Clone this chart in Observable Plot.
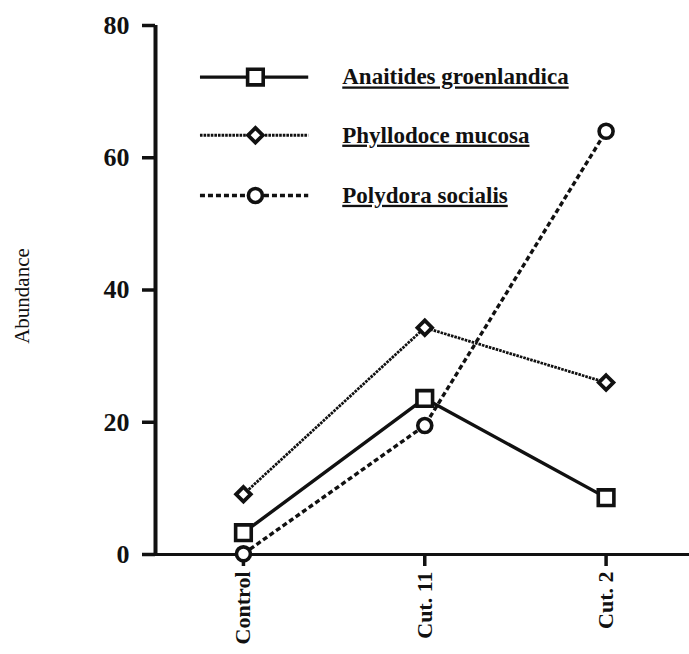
<!DOCTYPE html>
<html>
<head>
<meta charset="utf-8">
<script src="https://cdn.jsdelivr.net/npm/d3@7"></script>
<script src="https://cdn.jsdelivr.net/npm/@observablehq/plot@0.6"></script>
<style>
  html, body { margin: 0; padding: 0; background: #fff; }
  #chart svg { display: block; }
</style>
</head>
<body>
<div id="chart"></div>
<script>
// ---- data ----
const categories = ["Control", "Cut. 11", "Cut. 2"];
const species = ["Anaitides groenlandica", "Phyllodoce mucosa", "Polydora socialis"];
const anaitides = [3.3, 23.6, 8.6];
const phyllodoce = [9.1, 34.3, 26.0];
const polydora = [0.1, 19.5, 64.0];
const yTicks = [0, 20, 40, 60, 80];

// ---- styles per series ----
const seriesStyle = [
  {values: anaitides, symbol: "square", r: 8.8, stroke: 3.6, dash: null, sw: 3.4},
  {values: phyllodoce, symbol: "diamond2", r: 6.6, stroke: 3.8, dash: "2.6,1", sw: 2.8},
  {values: polydora, symbol: "circle", r: 7, stroke: 3.6, dash: "5,3", sw: 3.4}
];

const rows = [];
species.forEach((s, k) => categories.forEach((c, i) => rows.push({species: s, k, i, v: seriesStyle[k].values[i]})));

// legend layout (data units)
const legendY = [72.2, 63.4, 54.3];
const legendLineX = [-0.237, 0.36];
const legendMarkX = 0.066;
const legendTextX = 0.545;

const ink = "#111";
const marks = [];

// axes lines
marks.push(Plot.ruleX([-0.485], {y1: 0, y2: 80, stroke: ink, strokeWidth: 4}));
marks.push(Plot.ruleY([0], {x1: -0.485, x2: 2.46, stroke: ink, strokeWidth: 3}));

marks.push(Plot.axisY({ticks: yTicks, tickSize: 13, tickPadding: 13, strokeWidth: 3.5, stroke: ink,
  fontSize: 26, fontWeight: "bold", fill: ink, label: null}));
marks.push(Plot.axisX({ticks: [0, 1, 2], tickFormat: i => categories[i], tickRotate: -90, tickSize: 12,
  tickPadding: 5, strokeWidth: 3.5, stroke: ink, fontSize: 22, fontWeight: "bold", fill: ink, label: null}));

marks.push(Plot.text(["Abundance"], {frameAnchor: "left", textAnchor: "middle", dx: -133, dy: 6, rotate: -90,
  fontSize: 21, fill: ink}));

// series
seriesStyle.forEach((st, k) => {
  const d = rows.filter(r => r.k === k);
  marks.push(Plot.line(d, {x: "i", y: "v", stroke: ink, strokeWidth: st.sw,
    strokeDasharray: st.dash, strokeLinecap: "butt"}));
});
seriesStyle.forEach((st, k) => {
  const d = rows.filter(r => r.k === k);
  marks.push(Plot.dot(d, {x: "i", y: "v", symbol: () => st.symbol, r: st.r, fill: "white",
    stroke: ink, strokeWidth: st.stroke}));
});

// legend
seriesStyle.forEach((st, k) => {
  marks.push(Plot.ruleY([legendY[k]], {x1: legendLineX[0], x2: legendLineX[1], stroke: ink,
    strokeWidth: st.sw, strokeDasharray: st.dash}));
  marks.push(Plot.dot([legendY[k]], {x: () => legendMarkX, y: d => d, symbol: () => st.symbol, r: st.r,
    fill: "white", stroke: ink, strokeWidth: st.stroke}));
  marks.push(Plot.text([species[k]], {x: () => legendTextX, y: () => legendY[k], text: d => d,
    textAnchor: "start", fontSize: 23, fontWeight: "bold", fill: ink}));
});

const chart = Plot.plot({
  width: 689,
  height: 654,
  marginLeft: 155,
  marginRight: 0,
  marginTop: 25,
  marginBottom: 100,
  style: {fontFamily: "'Liberation Serif', 'Times New Roman', serif", background: "white", color: ink},
  x: {type: "linear", domain: [-0.485, 2.46], axis: null},
  y: {domain: [0, 80], axis: null},
  marks
});

const svg = d3.select(chart);
svg.selectAll("text")
  .filter(function() { return species.includes(this.textContent); })
  .style("text-decoration", "underline")
  .style("text-decoration-thickness", "2px");

document.getElementById("chart").appendChild(chart);
</script>
</body>
</html>
